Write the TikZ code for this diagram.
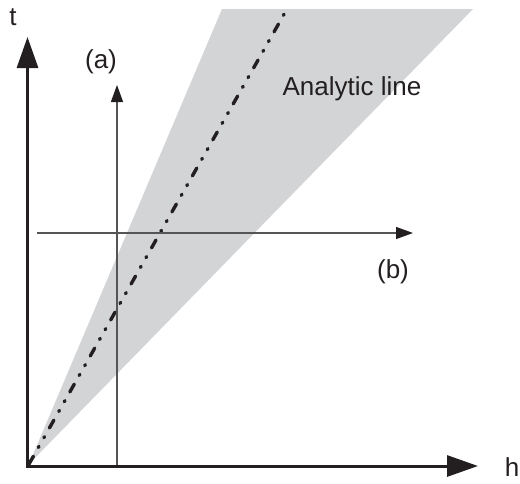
\documentclass[tikz,border=0pt]{standalone}
\usepackage{fontspec}
\setmainfont{Liberation Sans}
\usetikzlibrary{arrows.meta}
\definecolor{axiscol}{HTML}{231F20}
\definecolor{thincol}{HTML}{555555}
\definecolor{shadecol}{HTML}{D3D4D6}
\tikzset{
  axis/.style={line width=3pt, draw=axiscol, -{Triangle[length=31pt,width=21pt]}},
  thinarrow/.style={line width=1.3pt, draw=thincol, -{Triangle[length=17pt,width=12pt,color=axiscol]}},
  lbl/.style={font=\fontsize{26}{30}\selectfont, text=axiscol, inner sep=0pt},
  analytic/.style={line width=3.4pt, draw=axiscol, line cap=round,
    dash pattern=on 9pt off 10pt on 1.2pt off 10pt on 1.2pt off 10pt}
}
\begin{document}
\begin{tikzpicture}[x=1pt,y=-1pt]
\useasboundingbox (0,0) rectangle (520,483);
\coordinate (O) at (29,464);
\coordinate (TL) at (222,9);
\coordinate (TR) at (473,9);
\coordinate (TD) at (287,9);
\fill[shadecol] (O) -- (TL) -- (TR) -- cycle;
\draw[analytic] (O) -- (TD);
% thin arrows
\coordinate (a0) at (117,466);
\coordinate (a1) at (117,85);
\coordinate (b0) at (37,233);
\coordinate (b1) at (413,233);
\draw[thinarrow] (a0) -- (a1);
\draw[thinarrow] (b0) -- (b1);
% axes
\coordinate (v0) at (27.5,467.5);
\coordinate (v1) at (27.5,37);
\coordinate (h0) at (26,466);
\coordinate (h1) at (478,466);
\draw[axis] (v0) -- (v1);
\draw[axis] (h0) -- (h1);
% labels
\node[lbl] (t) at (13,17) {t};
\node[lbl] (h) at (512,467) {h};
\node[lbl] (la) at (101,62) {(a)};
\node[lbl] (lb) at (393,272) {(b)};
\node[lbl] (al) at (352,89) {Analytic line};
\end{tikzpicture}
\end{document}
